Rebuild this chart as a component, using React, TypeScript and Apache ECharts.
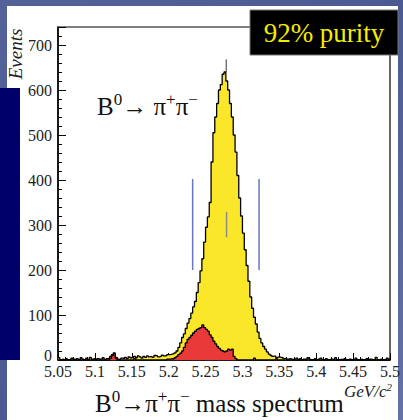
import React, { useEffect, useRef } from "react";
import * as echarts from "echarts";

// Histogram binning (GeV/c^2)
const BIN_START = 5.05;
const BIN_WIDTH = 0.0025;
const X_MIN = 5.05;
const X_MAX = 5.5;
const Y_MAX = 740;

// Total events per bin (yellow + outline)
const totalCounts = [
  5, 1, 2, 0, 3, 1, 0, 4, 2, 1, 3, 1, 5, 2, 0, 4, 1, 6, 2, 3,
  1, 3, 2, 2, 5, 1, 3, 4, 8, 12, 16, 6, 2, 1, 4, 3, 6, 3, 7, 5,
  6, 8, 5, 9, 7, 4, 8, 6, 9, 7, 8, 6, 10, 9, 7, 8, 11, 9, 10, 12,
  12, 13, 14, 16, 20, 28, 38, 50, 58, 70, 82, 92, 104, 118, 130, 150, 172, 198, 225, 262,
  295, 318, 350, 440, 505, 540, 570, 600, 612, 635, 640, 620, 600, 570, 540, 500, 462, 410, 360, 320,
  282, 245, 210, 175, 140, 115, 95, 80, 62, 48, 38, 30, 24, 18, 13, 10, 8, 9, 6, 7,
  6, 5, 3, 4, 2, 3, 2, 1, 2, 4, 1, 3, 0, 2, 1, 5, 2, 0, 1, 3,
  0, 2, 4, 1, 0, 3, 1, 0, 2, 1, 5, 0, 1, 2, 0, 3, 1, 0, 2, 0,
  1, 4, 0, 1, 2, 0, 1, 3, 0, 2, 1, 0, 6, 1, 0, 2, 0, 1, 4, 2,
];

// Background events per bin (red)
const redCounts = [
  0, 0, 0, 0, 0, 0, 0, 0, 0, 0, 0, 0, 0, 0, 0, 0, 0, 0, 0, 0,
  0, 0, 0, 0, 0, 0, 0, 0, 4, 10, 14, 4, 0, 0, 0, 0, 0, 0, 0, 0,
  0, 3, 0, 0, 0, 0, 0, 0, 0, 0, 0, 0, 0, 0, 0, 0, 0, 0, 0, 2,
  2, 3, 2, 5, 8, 12, 15, 20, 28, 38, 46, 50, 55, 60, 64, 68, 70, 72, 78, 72,
  68, 64, 56, 50, 42, 36, 30, 26, 22, 20, 18, 20, 24, 22, 24, 8, 3, 0, 0, 0,
  0, 0, 0, 0, 0, 0, 4, 0, 0, 0, 0, 0, 0, 0, 0, 0, 0, 0, 3, 0,
  0, 0, 0, 0, 0, 0, 0, 0, 0, 0, 0, 0, 0, 0, 0, 0, 0, 0, 0, 0,
  0, 0, 0, 0, 0, 0, 0, 0, 0, 0, 0, 0, 0, 0, 0, 0, 0, 0, 0, 0,
  0, 0, 0, 0, 0, 0, 0, 0, 0, 0, 0, 0, 0, 0, 0, 0, 0, 0, 0, 0,
];

// Signal window markers and peak error bar
const windowEdges = [5.2325, 5.3225];
const windowRange = [200, 402];
const centerMark = 5.2785;
const centerRange = [273, 329];
const peakErrorBar = [640, 668];

const SERIF = "Liberation Serif";

export default function App() {
  const ref = useRef<HTMLDivElement>(null);
  useEffect(() => {
    if (!ref.current) return;
    const chart = echarts.init(ref.current, null, { renderer: "svg" });
    const toSteps = (counts: number[]) => {
      const pts = counts.map((c, i) => [BIN_START + i * BIN_WIDTH, c]);
      pts.push([BIN_START + counts.length * BIN_WIDTH, counts[counts.length - 1]]);
      return pts;
    };
    const vline = (x: number, r: number[], color: string, w: number) => ({
      type: "line",
      data: [
        [x, r[0]],
        [x, r[1]],
      ],
      symbol: "none",
      lineStyle: { color, width: w },
      z: 5,
      silent: true,
    });
    const textBase = {
      fontFamily: SERIF,
    };
    chart.setOption({
      animation: false,
      backgroundColor: {
        type: "linear",
        x: 0,
        y: 0,
        x2: 1,
        y2: 1,
        colorStops: [
          { offset: 0, color: "#55629a" },
          { offset: 0.5, color: "#4c5a93" },
          { offset: 1, color: "#6472a6" },
        ],
      },
      grid: {
        left: 58,
        top: 27,
        right: 7,
        bottom: 60,
        show: true,
        borderColor: "#000",
        borderWidth: 1.2,
        backgroundColor: "transparent",
      },
      xAxis: {
        type: "value",
        min: X_MIN,
        max: X_MAX,
        interval: 0.05,
        axisLine: { lineStyle: { color: "#000", width: 1.5 } },
        axisTick: { inside: true, length: 7, lineStyle: { color: "#000" } },
        minorTick: { show: true, splitNumber: 5, length: 3, lineStyle: { color: "#000" } },
        splitLine: { show: false },
        axisLabel: {
          margin: 3,
          color: "#222",
          fontFamily: SERIF,
          fontSize: 16,
          formatter: (v: number) => String(+v.toFixed(2)),
        },
      },
      yAxis: {
        type: "value",
        min: 0,
        max: Y_MAX,
        interval: 100,
        axisLine: { show: true, lineStyle: { color: "#000", width: 1.5 } },
        axisTick: { show: true, inside: true, length: 8, lineStyle: { color: "#000" } },
        minorTick: { show: true, splitNumber: 5, length: 4, lineStyle: { color: "#000" } },
        splitLine: { show: false },
        axisLabel: {
          margin: 6,
          color: "#222",
          fontFamily: SERIF,
          fontSize: 16,
          formatter: (v: number) =>
            v === 0 ? "{z|0}" : v % 100 === 0 ? String(v) : "",
          rich: {
            z: { fontFamily: SERIF, fontSize: 16, color: "#222", padding: [0, 0, 9, 0] },
          },
        },
      },
      series: [
        {
          type: "line",
          step: "end",
          data: toSteps(totalCounts),
          symbol: "none",
          lineStyle: { color: "#000", width: 1.3 },
          areaStyle: { color: "#fbe72a", opacity: 1 },
          z: 2,
        },
        {
          type: "line",
          step: "end",
          data: toSteps(redCounts),
          symbol: "none",
          lineStyle: { color: "#000", width: 1.3 },
          areaStyle: { color: "#e93a3a", opacity: 1 },
          z: 3,
        },
        vline(windowEdges[0], windowRange, "#6a76c4", 1.5),
        vline(windowEdges[1], windowRange, "#6a76c4", 1.5),
        vline(centerMark, centerRange, "#8a8a8a", 1.5),
        vline(centerMark - 0.0005, peakErrorBar, "#333", 1),
      ],
      graphic: [
        {
          type: "rect",
          shape: { x: 7, y: 6, width: 391, height: 414 },
          style: { fill: "#ffffff" },
          z: -10,
          silent: true,
        },
        {
          type: "rect",
          shape: { x: 0, y: 88, width: 20, height: 272 },
          style: { fill: "#00006a" },
          z: -9,
          silent: true,
        },
        {
          type: "rect",
          shape: { x: 250, y: 10, width: 148, height: 45 },
          style: { fill: "#000", stroke: "#777", lineWidth: 1 },
          z: 50,
        },
        {
          type: "text",
          x: 324,
          y: 33,
          z: 51,
          style: {
            ...textBase,
            text: "92% purity",
            fill: "#f4ec00",
            fontSize: 27,
            align: "center",
            verticalAlign: "middle",
            textAlign: "center",
            textVerticalAlign: "middle",
          },
        },
        {
          type: "text",
          x: 97,
          y: 106,
          z: 51,
          style: {
            ...textBase,
            fontSize: 25,
            text: "{n|B}{s|0}{n|→ π}{s|+}{n|π}{s|−}",
            fill: "#111",
            align: "left",
            verticalAlign: "middle",
            textAlign: "left",
            textVerticalAlign: "middle",
            rich: {
              n: { fontFamily: SERIF, fontSize: 25, fill: "#111", lineHeight: 30 },
              s: { fontFamily: SERIF, fontSize: 17, fill: "#111", verticalAlign: "top", lineHeight: 30 },
            },
          },
        },
        {
          type: "text",
          x: 15,
          y: 54,
          rotation: Math.PI / 2,
          z: 51,
          style: {
            ...textBase,
            text: "Events",
            fill: "#222",
            fontSize: 19,
            fontStyle: "italic",
            align: "center",
            verticalAlign: "middle",
            textAlign: "center",
            textVerticalAlign: "middle",
          },
        },
        {
          type: "text",
          x: 392,
          y: 391,
          z: 51,
          style: {
            ...textBase,
            fontSize: 17,
            fontStyle: "italic",
            text: "{i|GeV/c}{s|2}",
            fill: "#222",
            align: "right",
            verticalAlign: "middle",
            textAlign: "right",
            textVerticalAlign: "middle",
            rich: {
              i: { fontFamily: SERIF, fontStyle: "italic", fontSize: 17, fill: "#222", lineHeight: 20 },
              s: { fontFamily: SERIF, fontStyle: "italic", fontSize: 11, fill: "#222", verticalAlign: "top", lineHeight: 20 },
            },
          },
        },
        {
          type: "text",
          x: 95,
          y: 403,
          z: 51,
          style: {
            ...textBase,
            fontSize: 25,
            text: "{n|B}{s|0}{n|→π}{s|+}{n|π}{s|−}{n| mass spectrum}",
            fill: "#111",
            align: "left",
            verticalAlign: "middle",
            textAlign: "left",
            textVerticalAlign: "middle",
            rich: {
              n: { fontFamily: SERIF, fontSize: 25, fill: "#111", lineHeight: 30 },
              s: { fontFamily: SERIF, fontSize: 17, fill: "#111", verticalAlign: "top", lineHeight: 30 },
            },
          },
        },
      ],
    });
    return () => chart.dispose();
  }, []);
  return (
    <div
      ref={ref}
      style={{ position: "absolute", left: 0, top: 0, width: 403, height: 420 }}
    />
  );
}
